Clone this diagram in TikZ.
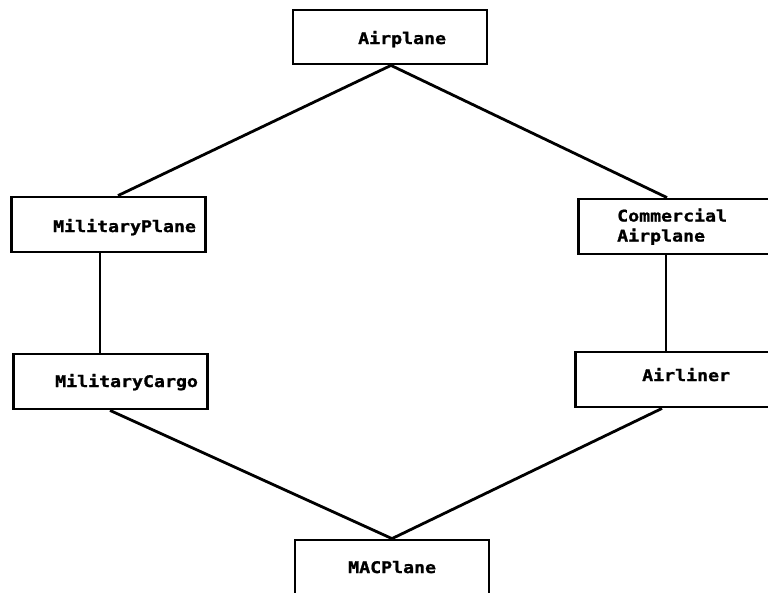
\documentclass[tikz,border=0pt]{standalone}
\usepackage{fontspec}
\newfontfamily\lblfont{DejaVu Sans Mono Bold}[FakeStretch=1.14,FakeBold=1.2]
\begin{document}
\begin{tikzpicture}[x=1pt,y=-1pt,
  box/.style={draw=black, line width=2.8pt, inner sep=0pt, minimum width=194pt, minimum height=55pt},
  lbl/.style={inner sep=0pt, font=\lblfont\fontsize{16}{20}\selectfont, anchor=base west},
  conn/.style={draw=black, line width=2.8pt}
]
\useasboundingbox (0,0) rectangle (768,592);
\clip (0,0) rectangle (768,592);
% boxes
\node[box, minimum height=54pt] (ap) at (390,37) {};
\node[box] (mp) at (108.5,224.5) {};
\node[box] (ca) at (675.5,226.5) {};
\node[box] (mc) at (110.5,381.5) {};
\node[box] (al) at (672.5,379.5) {};
\node[box] (mac) at (392,567.5) {};
% labels
\node[lbl] (apt) at (358,44) {Airplane};
\node[lbl] (mpt) at (53,232) {MilitaryPlane};
\node[lbl, align=left] (cat) at (617,241.5) {Commercial\\Airplane};
\node[lbl] (mct) at (55,387) {MilitaryCargo};
\node[lbl] (alt) at (642,381) {Airliner};
\node[lbl] (mact) at (348,573) {MACPlane};
% connectors
\draw[conn] ([xshift=1pt]ap.south) -- ([xshift=9.5pt]mp.north);
\draw[conn] ([xshift=1pt]ap.south) -- ([xshift=-8.5pt]ca.north);
\draw[conn] ([xshift=-8.5pt]mp.south) -- ([xshift=-10.5pt]mc.north);
\draw[conn] ([xshift=-9.5pt]ca.south) -- ([xshift=-6.5pt]al.north);
\draw[conn] ([xshift=-0.5pt]mc.south) -- (mac.north);
\draw[conn] ([xshift=-10.5pt]al.south) -- (mac.north);
\end{tikzpicture}
\end{document}
